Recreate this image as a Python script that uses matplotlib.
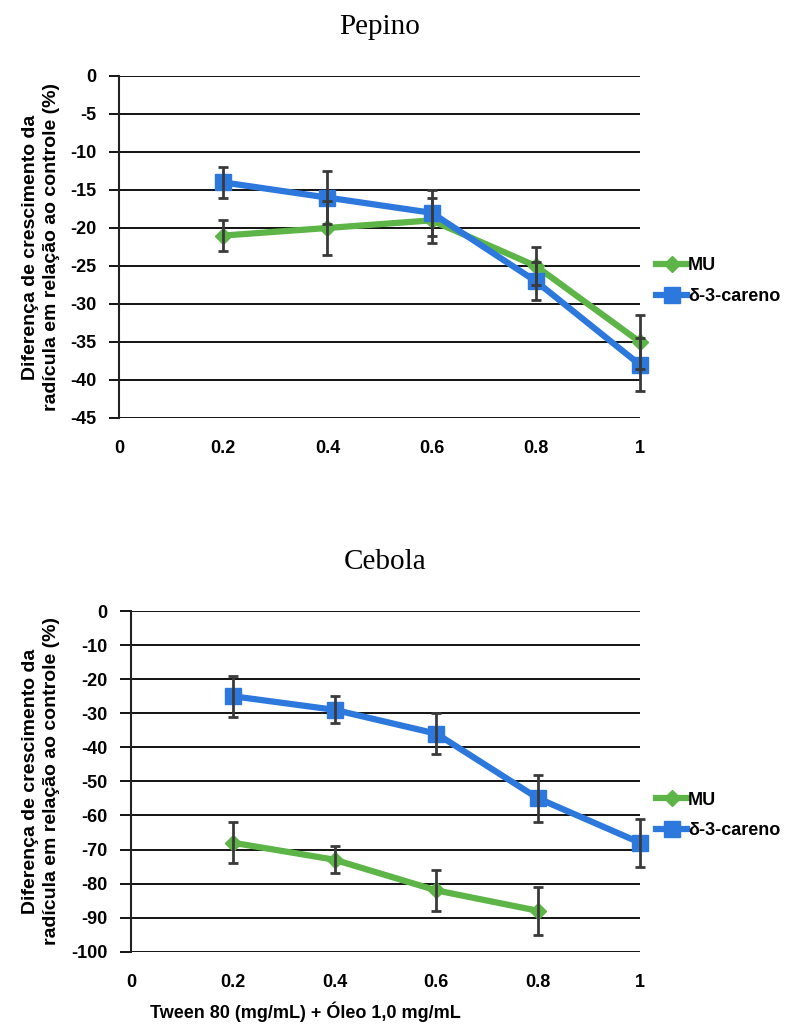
import matplotlib.pyplot as plt

# doses de Tween 80 (mg/mL)
doses = [0.2, 0.4, 0.6, 0.8, 1.0]

# Pepino
pep_mu = [-21, -20, -19, -25, -35]
pep_mu_err = [2, 3.5, 3, 2.5, 3.5]
pep_car = [-14, -16, -18, -27, -38]
pep_car_err = [2, 3.5, 3, 2.5, 3.5]

# Cebola (MU sem valor em 1,0)
ceb_doses_mu = [0.2, 0.4, 0.6, 0.8]
ceb_mu = [-68, -73, -82, -88]
ceb_mu_err = [6, 4, 6, 7]
ceb_car = [-25, -29, -36, -55, -68]
ceb_car_err = [6, 4, 6, 7, 7]

xticks = [0, 0.2, 0.4, 0.6, 0.8, 1]
xtick_labels = ['0', '0.2', '0.4', '0.6', '0.8', '1']

green = '#5db447'
blue = '#2d78dd'
errc = '#3a3a3a'

plt.rcParams['font.family'] = ['Liberation Sans', 'DejaVu Sans']
plt.rcParams['axes.unicode_minus'] = False

fig = plt.figure(figsize=(8.05, 10.28), dpi=100)
ax1 = fig.add_axes([0.1478, 0.5934, 0.6472, 0.3327])
ax2 = fig.add_axes([0.1627, 0.0742, 0.6323, 0.3314])


def draw(ax, xm, ym, em, xc, yc, ec, yticks, title, lab_x, tick_len):
    ax.plot(xm, ym, color=green, lw=4.5, marker='D', ms=8, zorder=3, label='MU', clip_on=False)
    ax.plot(xc, yc, color=blue, lw=4.5, marker='s', ms=12, zorder=4, label='δ-3-careno', clip_on=False)
    for x, y, e in [(xm, ym, em), (xc, yc, ec)]:
        eb = ax.errorbar(x, y, yerr=e, fmt='none', ecolor=errc, elinewidth=2,
                         capsize=3.5, capthick=2, zorder=5)
        for art in eb.lines[1] + eb.lines[2]:
            art.set_clip_on(False)
    ax.set_xlim(0, 1)
    ax.set_ylim(yticks[-1], yticks[0])
    ax.set_yticks(yticks)
    ax.set_xticks(xticks)
    ax.set_xticklabels(xtick_labels)
    ax.yaxis.grid(True, color='black', lw=1.3)
    ax.set_axisbelow(True)
    for s in ['top', 'right', 'bottom']:
        ax.spines[s].set_visible(False)
    ax.spines['left'].set_linewidth(1.5)
    ax.spines['left'].set_color('#222222')
    ax.tick_params(axis='x', length=0, pad=16, labelsize=13)
    ax.tick_params(axis='y', length=tick_len, direction='out', pad=9, labelsize=13, width=1.3)
    for lb in ax.get_xticklabels() + ax.get_yticklabels():
        lb.set_fontweight('bold')
    ax.set_ylabel('Diferença de crescimento da\nradícula em relação ao controle (%)',
                  fontsize=14, fontweight='bold', linespacing=1.35)
    ax.yaxis.set_label_coords(lab_x, 0.5)
    ax.set_title(title, family='Liberation Serif', fontsize=21, pad=30)
    ax.legend(loc='center left', bbox_to_anchor=(1.0, 0.40), frameon=False,
              handlelength=1.7, handletextpad=0.05, labelspacing=0.75,
              prop={'weight': 'bold', 'size': 13})


draw(ax1, doses, pep_mu, pep_mu_err, doses, pep_car, pep_car_err,
     list(range(0, -50, -5)), 'Pepino', -0.113, 7)
draw(ax2, ceb_doses_mu, ceb_mu, ceb_mu_err, doses, ceb_car, ceb_car_err,
     list(range(0, -110, -10)), 'Cebola', -0.139, 8)

fig.text(305 / 805, 1 - 1012 / 1028, 'Tween 80 (mg/mL) + Óleo 1,0 mg/mL',
         ha='center', va='center', fontsize=13, fontweight='bold')

plt.savefig('out.png', dpi=100)
